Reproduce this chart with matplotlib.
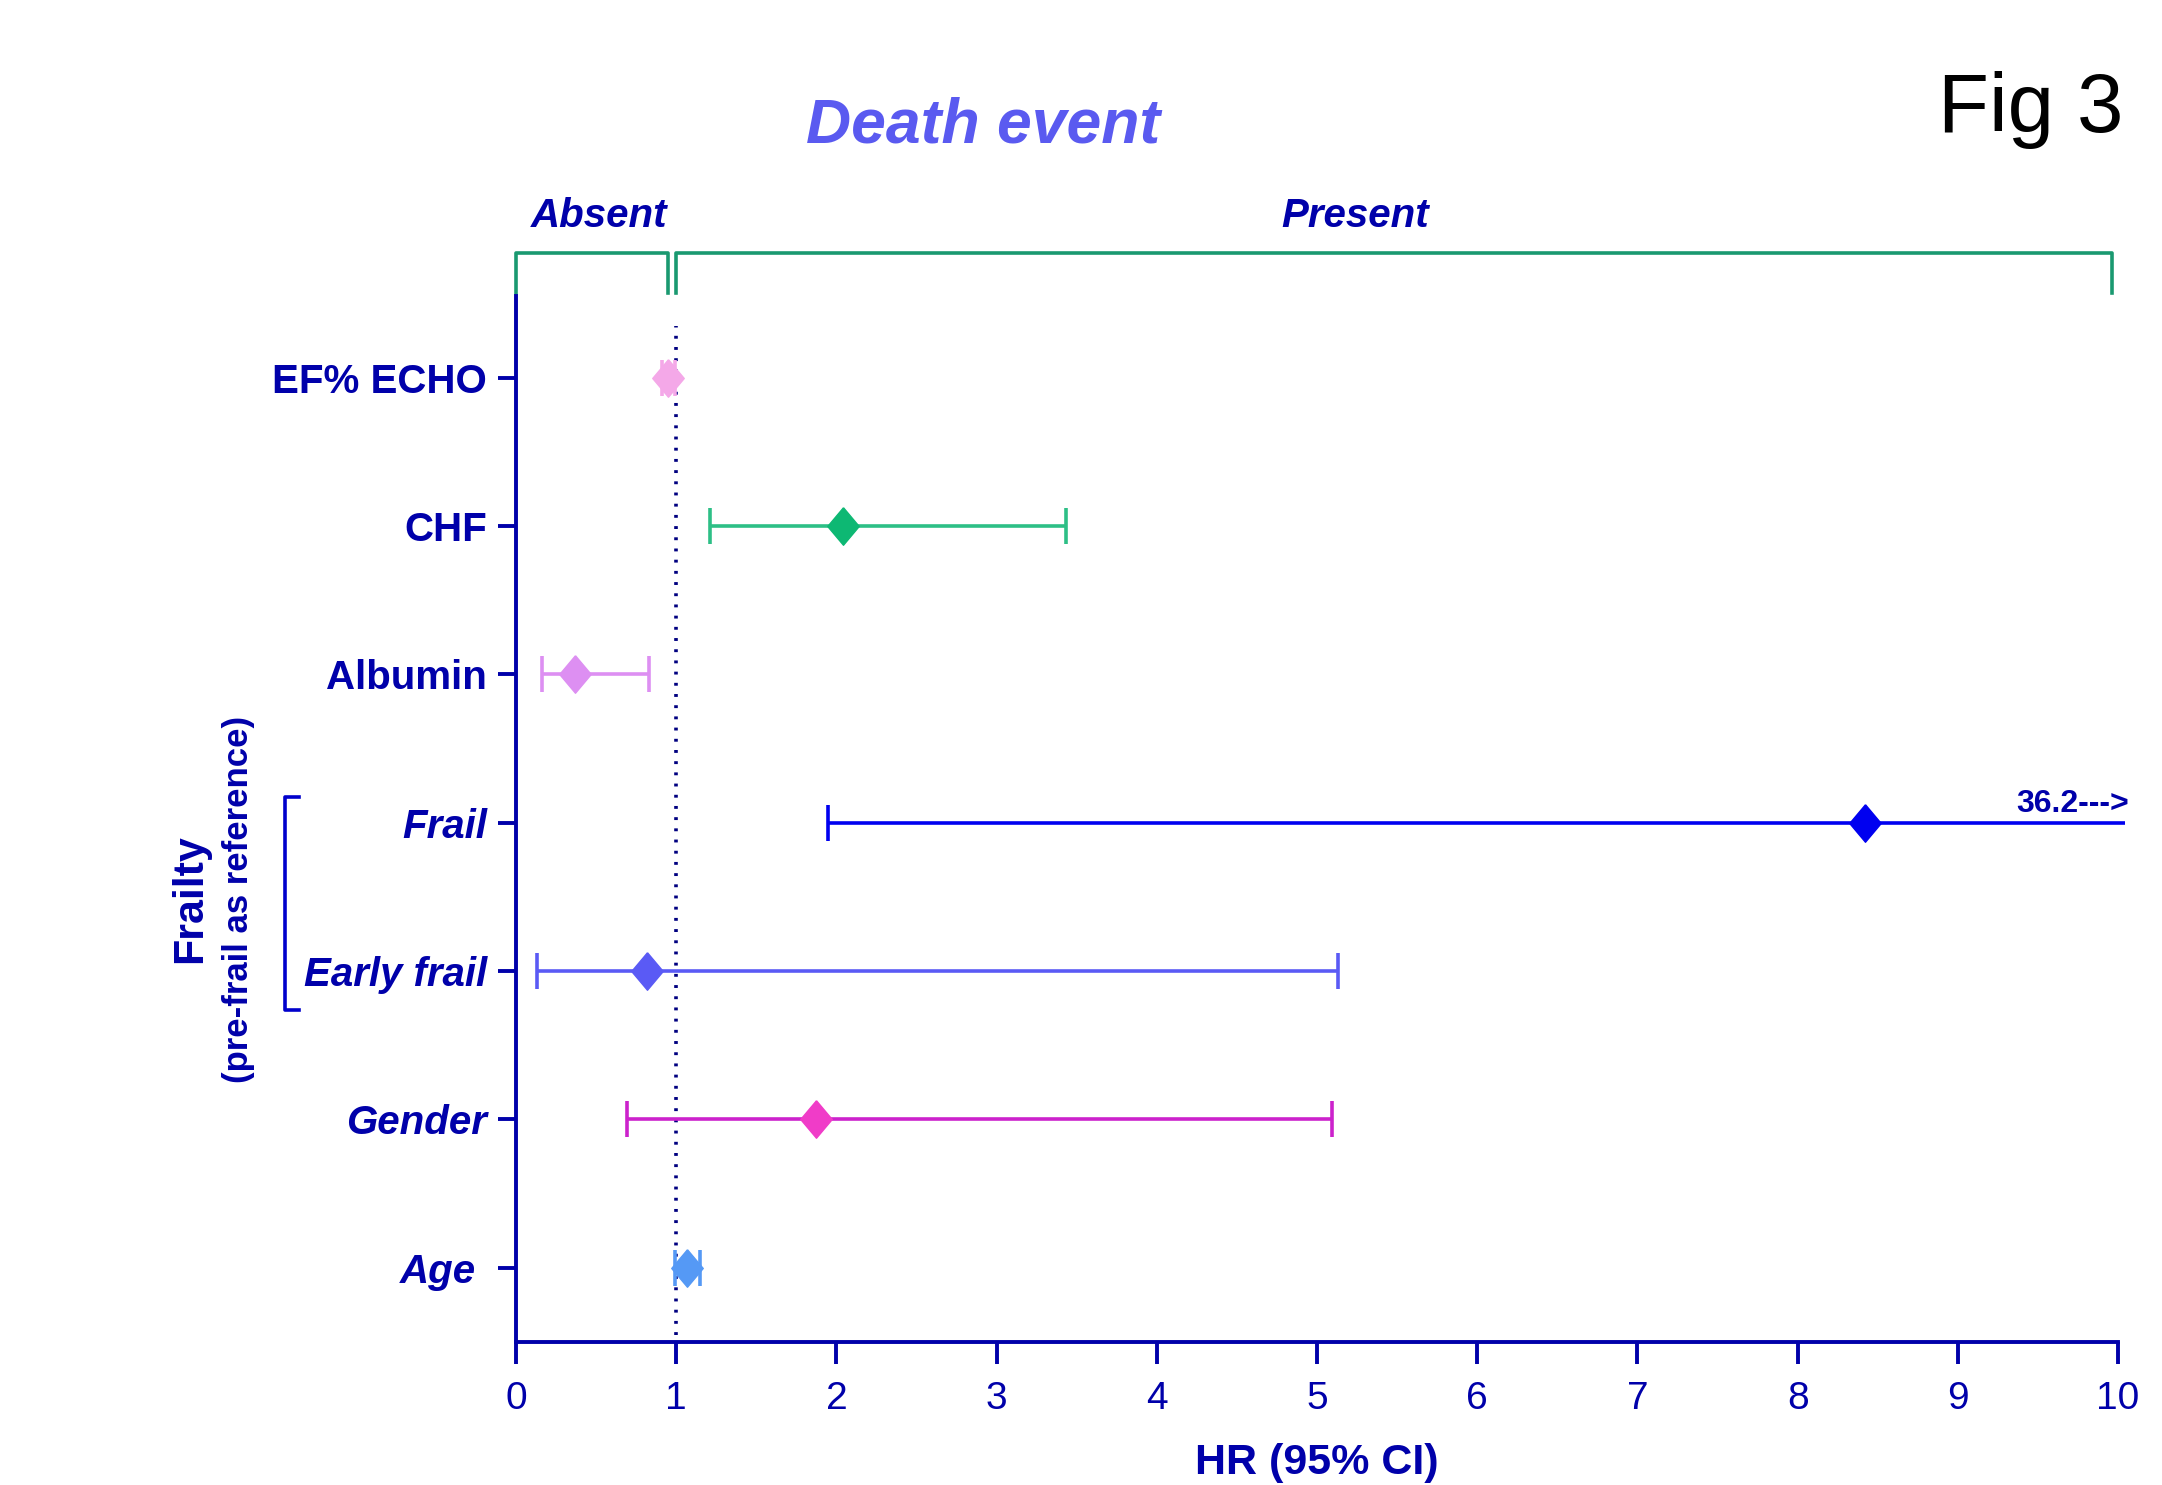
import matplotlib.pyplot as plt
import matplotlib.transforms as mtransforms
import numpy as np

# rows from bottom to top
labels = ['Age ', 'Gender', 'Early frail', 'Frail', 'Albumin', 'CHF', 'EF% ECHO']
italic = [True, True, True, True, False, False, False]
hr = [1.07, 1.87, 0.82, 8.42, 0.37, 2.04, 0.95]
ci_lo = [0.99, 0.69, 0.13, 1.95, 0.16, 1.21, 0.91]
ci_hi = [1.15, 5.09, 5.13, 36.2, 0.83, 3.43, 0.99]
line_colors = ['#5599F5', '#CC22CC', '#5A5AF5', '#0000F0', '#DD8FF2', '#2DBF86', '#F4A8E8']
marker_colors = ['#5599F5', '#F03CC8', '#5A5AF5', '#0000F0', '#DD8FF2', '#0DB873', '#F4A8E8']
x_ticks = [0, 1, 2, 3, 4, 5, 6, 7, 8, 9, 10]

navy = '#0000AA'
green = '#1A9970'
x_max_draw = 10.04  # bars running off the axis stop here

plt.rcParams['font.family'] = ['Liberation Sans', 'DejaVu Sans']

fig = plt.figure(figsize=(21.62, 14.85), dpi=100)
ax = fig.add_axes([0.2387, 0.0963, 0.741, 0.7044])

# tall diamond marker
diamond = [(0, 1), (0.84, 0), (0, -1), (-0.84, 0), (0, 1)]

y = np.arange(len(labels))
for i in range(len(labels)):
    hi_draw = min(ci_hi[i], x_max_draw)
    ax.plot([ci_lo[i], hi_draw], [y[i], y[i]], color=line_colors[i], lw=2.6,
            solid_capstyle='butt', clip_on=False, zorder=3)
    caps = [ci_lo[i]] + ([ci_hi[i]] if ci_hi[i] <= 10 else [])
    ax.plot(caps, [y[i]] * len(caps), linestyle='none', marker='|', ms=26,
            mew=2.6, color=line_colors[i], zorder=3)
    ax.plot(hr[i], y[i], marker=diamond, ms=27, color=marker_colors[i],
            linestyle='none', zorder=4)
    if ci_hi[i] > 10:
        ax.text(10.07, y[i] + 0.07, '%.1f--->' % ci_hi[i], ha='right', va='baseline',
                fontsize=23, fontweight='bold', color=navy)

# reference line at HR = 1
ax.plot([1, 1], [-0.45, 6.35], color='#000080', lw=2.6,
        linestyle=(0, (0.8, 2.3)), dash_capstyle='butt', zorder=2)

ax.set_xlim(0, 10)
ax.set_ylim(-0.5, 6.55)
ax.set_xticks(x_ticks)
ax.set_yticks(y)
ax.set_yticklabels(labels)
for lab, it in zip(ax.get_yticklabels(), italic):
    lab.set_fontweight('bold')
    lab.set_fontsize(29)
    lab.set_color(navy)
    if it:
        lab.set_fontstyle('italic')

for side in ['top', 'right']:
    ax.spines[side].set_visible(False)
for side in ['left', 'bottom']:
    ax.spines[side].set_color(navy)
    ax.spines[side].set_linewidth(2.8)
ax.tick_params(axis='x', length=16, width=2.8, color=navy, labelcolor=navy,
               labelsize=28, pad=12)
ax.tick_params(axis='y', length=13, width=2.8, color=navy, pad=8)

ax.set_xlabel('HR (95% CI)', fontsize=31, fontweight='bold', color=navy, labelpad=19)

# Absent / Present brackets over the axis
br_top, br_foot = 6.84, 6.57
ax.plot([0, 0, 0.95, 0.95], [br_foot, br_top, br_top, br_foot], color=green, lw=2.6,
        clip_on=False)
ax.plot([1.0, 1.0, 9.96, 9.96], [br_foot, br_top, br_top, br_foot], color=green, lw=2.6,
        clip_on=False)
ax.text(0.52, 7.09, 'Absent', ha='center', va='center', fontsize=29,
        fontweight='bold', fontstyle='italic', color=navy)
ax.text(5.24, 7.09, 'Present', ha='center', va='center', fontsize=29,
        fontweight='bold', fontstyle='italic', color=navy)

# Frailty group bracket and label
trans = mtransforms.blended_transform_factory(fig.transFigure, ax.transData)
ax.plot([0.1383, 0.1318, 0.1318, 0.1383], [3.175, 3.175, 1.74, 1.74], color='#0000CC',
        lw=2.6, transform=trans, clip_on=False)
fig.text(0.0879, 0.3946, 'Frailty', rotation=90, ha='center', va='center',
         fontsize=31, fontweight='bold', color=navy)
fig.text(0.1105, 0.3946, '(pre-frail as reference)', rotation=90, ha='center',
         va='center', fontsize=25, fontweight='bold', color=navy)

fig.text(0.4547, 0.915, 'Death event', ha='center', va='center', fontsize=45,
         fontweight='bold', fontstyle='italic', color='#5A5AF0')
fig.text(0.982, 0.911, 'Fig 3', ha='right', va='baseline', fontsize=60, color='black',
         family=['Liberation Sans Narrow', 'Liberation Sans', 'DejaVu Sans'])

fig.savefig('out.png', dpi=100)
